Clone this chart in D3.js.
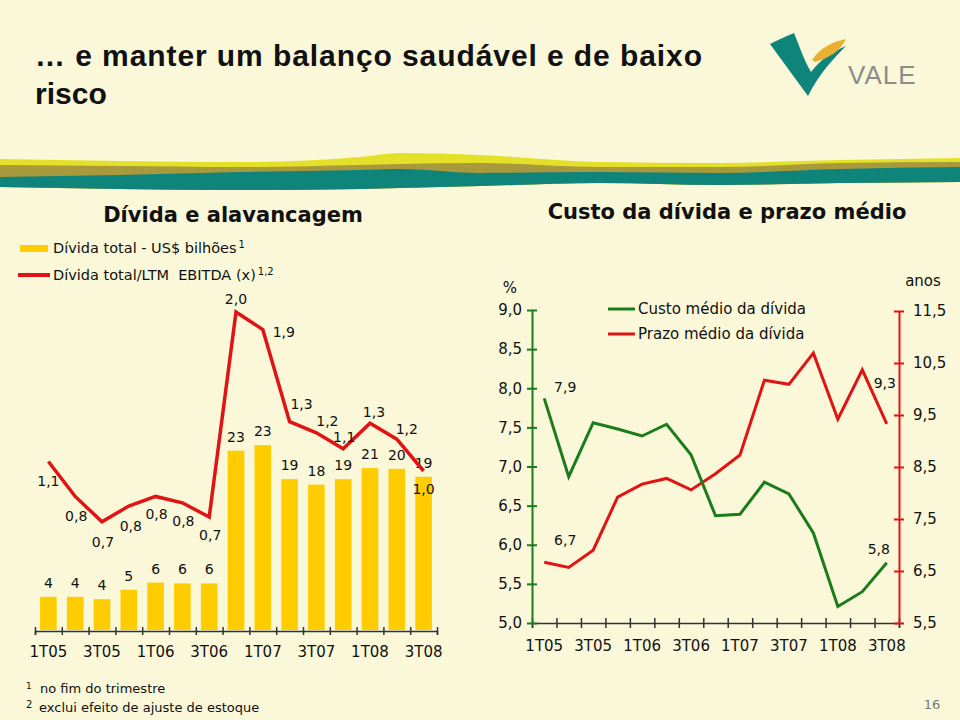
<!DOCTYPE html>
<html><head><meta charset="utf-8">
<script src="https://cdn.jsdelivr.net/npm/d3@7/dist/d3.min.js"></script>
<style>
html,body{margin:0;padding:0;background:#faf8d8;}
svg{display:block;}
text{font-family:"DejaVu Sans",Verdana,sans-serif;fill:#111;}
</style></head>
<body>
<svg id="chart" width="960" height="720"></svg>
<script>
// ---------- data ----------
const quarters = ["1T05","2T05","3T05","4T05","1T06","2T06","3T06","4T06","1T07","2T07","3T07","4T07","1T08","2T08","3T08"];
const tickLabels = ["1T05","3T05","1T06","3T06","1T07","3T07","1T08","3T08"];
const debtTotal = [4.2,4.2,3.9,5.1,6.0,5.9,5.9,22.7,23.4,19.1,18.4,19.1,20.5,20.4,19.4];
const debtEbitda = [1.06,0.84,0.68,0.78,0.84,0.80,0.71,2.0,1.89,1.31,1.24,1.14,1.30,1.20,1.0];
const debtCost = [7.87,6.87,7.56,7.48,7.39,7.54,7.15,6.37,6.39,6.80,6.65,6.15,5.21,5.40,5.77];
const debtTerm = [6.67,6.57,6.90,7.92,8.17,8.28,8.06,8.37,8.73,10.17,10.09,10.69,9.42,10.37,9.33];
const costTicks = [5.0,5.5,6.0,6.5,7.0,7.5,8.0,8.5,9.0];
const termTicks = [5.5,6.5,7.5,8.5,9.5,10.5,11.5];
const costLabelIdx = [0,14];
const termLabelIdx = [0,14];

// label placement (offsets from point, px)
const ratioLabelOffsets = [[0,20],[1,20],[1,20],[2,20],[1,18],[1,18],[1,18],[0,-13],[21,3],[12,-18],[11,-12],[1,-12],[4,-11],[10,-10],[0,18]];
const costLabelOffsets = [[21,-11],[-8,-14]];
const termLabelOffsets = [[21,-22],[-2,-41]];

const RED = "#e01414", GREEN = "#1c7c1c", YEL = "#ffcc00";
const fmt1 = d => d3.format(".1f")(d).replace(".", ",");
const fmt0 = d => d3.format(".0f")(d);

const svg = d3.select("#chart");
svg.append("rect").attr("width",960).attr("height",720).attr("fill","#faf8d8");

// ---------- header decoration ----------
const waveX = [0,120,240,360,400,480,600,720,840,960];
const yellowTop = [159,161,162,157,153,155,162,163,160,158];
const oliveTop  = [165,166,167,165,164,163,167,167,163,162];
const tealTop   = [177,175,172,170,169,173,172,173,169,167];
const tealBot   = [187,189,190,189,188,186,183,185,183,182];
const areaGen = (top) => d3.area().x((d,i)=>waveX[i]).y0((d,i)=>tealBot[i]).y1((d,i)=>top[i]).curve(d3.curveMonotoneX)(waveX);
svg.append("path").attr("d", areaGen(yellowTop)).attr("fill","#e4e02a");
svg.append("path").attr("d", areaGen(oliveTop)).attr("fill","#a8993a");
svg.append("path").attr("d", areaGen(tealTop)).attr("fill","#0f847a");

const title = svg.append("text")
  .style("font-family","'Liberation Sans',Arial,sans-serif").style("font-weight","bold").style("font-size","30px");
title.append("tspan").attr("x",35).attr("y",66).attr("textLength",667).attr("lengthAdjust","spacing").text("… e manter um balanço saudável e de baixo");
title.append("tspan").attr("x",35).attr("y",104).text("risco");

// logo
const logo = svg.append("g");
logo.append("path").attr("d","M770,44 C778,40 786,36 794,33 C800,48 805,62 811,72 C820,60 832,52 846,46 C836,56 820,72 808,96 Z").attr("fill","#0f847a");
logo.append("path").attr("d","M812,60 C820,48 832,42 846,39 C841,50 830,58 815,62 Z").attr("fill","#eab031");
logo.append("text").attr("x",848).attr("y",84).text("VALE")
  .style("font-family","'Liberation Sans',Arial,sans-serif").style("font-size","26px").style("fill","#8c8c8c").style("letter-spacing","1px");

// ---------- left chart ----------
const xL = d3.scaleBand().domain(quarters).range([35,437]).paddingInner(0.38).paddingOuter(0.19);
const xLEdge = d3.scaleLinear().domain([0,quarters.length]).range([35,437]);
const yBar = d3.scaleLinear().domain([0,30]).range([630,393]);
const yRatio = d3.scaleLinear().domain([0,2.5]).range([630,232.5]);
const L = svg.append("g");

L.append("text").attr("x",233).attr("y",222).attr("text-anchor","middle")
  .style("font-weight","bold").style("font-size","21px").text("Dívida e alavancagem");

// legend
L.append("rect").attr("x",20).attr("y",245).attr("width",28).attr("height",7).attr("fill",YEL);
const lg1 = L.append("text").attr("x",53).attr("y",253).style("font-size","14.5px");
lg1.append("tspan").text("Dívida total - US$ bilhões");
lg1.append("tspan").attr("dx",2).attr("dy",-5).style("font-size","10px").text("1");
L.append("line").attr("x1",18).attr("x2",50).attr("y1",275).attr("y2",275).attr("stroke",RED).attr("stroke-width",4);
const lg2 = L.append("text").attr("x",53).attr("y",280).style("font-size","14.5px");
lg2.append("tspan").text("Dívida total/LTM\u00a0\u00a0EBITDA (x)");
lg2.append("tspan").attr("dx",2).attr("dy",-5).style("font-size","10px").text("1,2");

// bars
L.selectAll("rect.bar").data(debtTotal).join("rect").attr("class","bar")
  .attr("x",(d,i)=>xL(quarters[i])).attr("width",xL.bandwidth())
  .attr("y",d=>yBar(d)).attr("height",d=>yBar(0)-yBar(d)).attr("fill",YEL);
L.selectAll("text.barlab").data(debtTotal).join("text").attr("class","barlab")
  .attr("x",(d,i)=>xL(quarters[i])+xL.bandwidth()/2).attr("y",d=>yBar(d)-14)
  .attr("text-anchor","middle").attr("dominant-baseline","central").style("font-size","14px")
  .text(fmt0);

// ratio line
const cx = i => xL(quarters[i]) + xL.bandwidth()/2;
L.append("path").datum(debtEbitda)
  .attr("d", d3.line().x((d,i)=>cx(i)).y(d=>yRatio(d)))
  .attr("fill","none").attr("stroke",RED).attr("stroke-width",3.5).attr("stroke-linejoin","miter");
L.selectAll("text.rlab").data(debtEbitda).join("text").attr("class","rlab")
  .attr("x",(d,i)=>cx(i)+ratioLabelOffsets[i][0]).attr("y",(d,i)=>yRatio(d)+ratioLabelOffsets[i][1])
  .attr("text-anchor","middle").attr("dominant-baseline","central").style("font-size","14px")
  .text(fmt1);

// x axis (left)
const axL = L.append("g").attr("transform","translate(0,631)")
  .call(d3.axisBottom(xLEdge).tickValues(d3.range(quarters.length+1)).tickFormat("").tickSizeOuter(0).tickSize(4));
axL.select(".domain").attr("stroke","#333").attr("stroke-width",1.5);
axL.selectAll(".tick line").attr("y1",-4).attr("stroke","#333").attr("stroke-width",1.5);
const axLlab = L.append("g").attr("transform","translate(0,631)")
  .call(d3.axisBottom(xL).tickValues(tickLabels).tickSize(0).tickPadding(15));
axLlab.select(".domain").remove();
axLlab.selectAll("text").style("font-family","'DejaVu Sans',Verdana,sans-serif").style("font-size","15px").attr("fill","#111");

// footnotes
const fn1 = svg.append("text").attr("x",26).attr("y",693).style("font-size","13px");
fn1.append("tspan").style("font-size","9px").attr("dy",-4).text("1");
fn1.append("tspan").attr("x",40).attr("dy",4).text("no fim do trimestre");
const fn2 = svg.append("text").attr("x",26).attr("y",712).style("font-size","13px");
fn2.append("tspan").style("font-size","10px").attr("dy",-4).text("2");
fn2.append("tspan").attr("x",39).attr("dy",4).text("exclui efeito de ajuste de estoque");

// ---------- right chart ----------
const xR = d3.scaleBand().domain(quarters).range([532,899]).paddingInner(0.4).paddingOuter(0.2);
const xREdge = d3.scaleLinear().domain([0,quarters.length]).range([532,899]);
const yCost = d3.scaleLinear().domain([5,9]).range([623,310]);
const yTerm = d3.scaleLinear().domain([5.5,11.5]).range([623,311]);
const R = svg.append("g");
const rx = i => xR(quarters[i]) + xR.bandwidth()/2;

R.append("text").attr("x",727).attr("y",219).attr("text-anchor","middle")
  .style("font-weight","bold").style("font-size","21px").text("Custo da dívida e prazo médio");
R.append("text").attr("x",510).attr("y",293).attr("text-anchor","middle").style("font-size","15px").text("%");
R.append("text").attr("x",923).attr("y",286).attr("text-anchor","middle").style("font-size","15px").text("anos");

// legend
R.append("line").attr("x1",608).attr("x2",635).attr("y1",309).attr("y2",309).attr("stroke",GREEN).attr("stroke-width",3);
R.append("text").attr("x",638).attr("y",314).style("font-size","15px").text("Custo médio da dívida");
R.append("line").attr("x1",608).attr("x2",635).attr("y1",334).attr("y2",334).attr("stroke",RED).attr("stroke-width",3);
R.append("text").attr("x",638).attr("y",339).style("font-size","15px").text("Prazo médio da dívida");

// x axis
const axR = R.append("g").attr("transform","translate(0,623)")
  .call(d3.axisBottom(xREdge).tickValues(d3.range(quarters.length+1)).tickFormat("").tickSizeOuter(0).tickSize(5));
axR.select(".domain").attr("stroke","#333").attr("stroke-width",1.5);
axR.selectAll(".tick line").attr("y1",-5).attr("stroke","#333").attr("stroke-width",1.5);
const axRlab = R.append("g").attr("transform","translate(0,623)")
  .call(d3.axisBottom(xR).tickValues(tickLabels).tickSize(0).tickPadding(17));
axRlab.select(".domain").remove();
axRlab.selectAll("text").style("font-family","'DejaVu Sans',Verdana,sans-serif").style("font-size","15px").attr("fill","#111");

// left y axis (green)
const ayC = R.append("g").attr("transform","translate(532,0)")
  .call(d3.axisLeft(yCost).tickValues(costTicks).tickSize(5).tickSizeOuter(0).tickPadding(5).tickFormat(fmt1));
ayC.select(".domain").attr("stroke",GREEN).attr("stroke-width",2);
ayC.selectAll(".tick line").attr("x1",5).attr("stroke",GREEN).attr("stroke-width",2);
ayC.selectAll("text").style("font-family","'DejaVu Sans',Verdana,sans-serif").style("font-size","15px").attr("fill","#111");

// right y axis (red)
const ayT = R.append("g").attr("transform","translate(899,0)")
  .call(d3.axisRight(yTerm).tickValues(termTicks).tickSize(5).tickSizeOuter(0).tickPadding(9).tickFormat(fmt1));
ayT.select(".domain").attr("stroke",RED).attr("stroke-width",2);
ayT.selectAll(".tick line").attr("x1",-5).attr("stroke",RED).attr("stroke-width",2);
ayT.selectAll("text").style("font-family","'DejaVu Sans',Verdana,sans-serif").style("font-size","15px").attr("fill","#111");

// lines
R.append("path").datum(debtTerm)
  .attr("d", d3.line().x((d,i)=>rx(i)).y(d=>yTerm(d)))
  .attr("fill","none").attr("stroke",RED).attr("stroke-width",3);
R.append("path").datum(debtCost)
  .attr("d", d3.line().x((d,i)=>rx(i)).y(d=>yCost(d)))
  .attr("fill","none").attr("stroke",GREEN).attr("stroke-width",3);

R.selectAll("text.clab").data(costLabelIdx).join("text").attr("class","clab")
  .attr("x",(d,k)=>rx(d)+costLabelOffsets[k][0]).attr("y",(d,k)=>yCost(debtCost[d])+costLabelOffsets[k][1])
  .attr("text-anchor","middle").attr("dominant-baseline","central").style("font-size","14px")
  .text(d=>fmt1(debtCost[d]));
R.selectAll("text.tlab").data(termLabelIdx).join("text").attr("class","tlab")
  .attr("x",(d,k)=>rx(d)+termLabelOffsets[k][0]).attr("y",(d,k)=>yTerm(debtTerm[d])+termLabelOffsets[k][1])
  .attr("text-anchor","middle").attr("dominant-baseline","central").style("font-size","14px")
  .text(d=>fmt1(debtTerm[d]));

// page number
svg.append("text").attr("x",932).attr("y",709).attr("text-anchor","middle")
  .style("font-size","13px").style("fill","#777").text("16");
</script>
</body></html>
